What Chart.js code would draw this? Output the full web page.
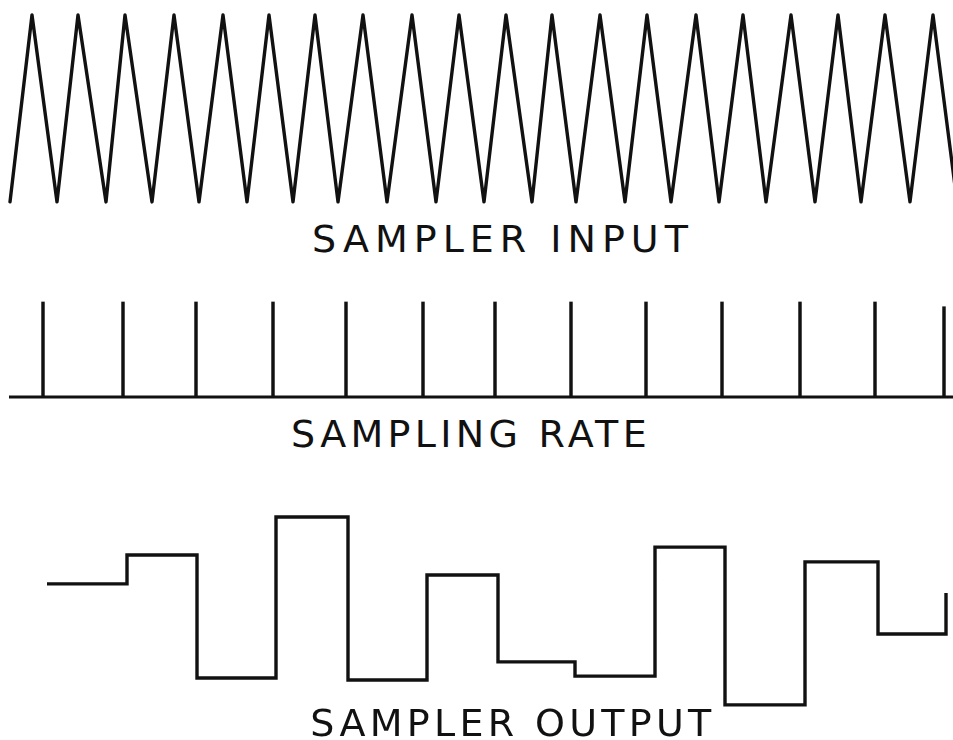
<!DOCTYPE html>
<html>
<head>
<meta charset="utf-8">
<script src="https://cdn.jsdelivr.net/npm/chart.js@4"></script>
<style>
  html, body { margin: 0; padding: 0; background: #fff; }
  #page { position: relative; width: 953px; height: 740px; overflow: hidden; }
  canvas { position: absolute; left: 0; }
  .label {
    position: absolute;
    transform: translate(-50%, -50%);
    font-family: "DejaVu Sans", sans-serif;
    font-size: 38px;
    line-height: 1;
    letter-spacing: 6px;
    color: #111;
    white-space: nowrap;
  }
</style>
</head>
<body>
<div id="page">
  <canvas id="inputChart" width="953" height="215" style="top:0px"></canvas>
  <canvas id="rateChart" width="953" height="115" style="top:290px"></canvas>
  <canvas id="outputChart" width="953" height="215" style="top:500px"></canvas>
  <div class="label" style="left:503px; top:239px">SAMPLER INPUT</div>
  <div class="label" style="left:471px; top:434px; letter-spacing:4.3px">SAMPLING RATE</div>
  <div class="label" style="left:513px; top:723px; letter-spacing:4.3px">SAMPLER OUTPUT</div>
</div>
<script>
// time axis runs 0 .. 95.3 (arbitrary units), amplitudes 0 .. 1

// triangle wave turning points (trough, peak, trough, ...)
const inputTimes = [
  1.0, 3.2, 5.7, 7.8, 10.6, 12.5, 15.2, 17.4, 19.9, 22.3,
  24.7, 26.9, 29.3, 31.5, 33.8, 36.3, 38.7, 41.2, 43.6, 45.9,
  48.4, 50.6, 53.2, 55.2, 57.6, 60.0, 62.5, 64.7, 67.1, 69.6,
  71.9, 74.3, 76.6, 79.1, 81.5, 83.8, 86.1, 88.5, 91.0, 93.3, 95.7
];
const inputLevels = [
  0, 1, 0, 1, 0, 1, 0, 1, 0, 1,
  0, 1, 0, 1, 0, 1, 0, 1, 0, 1,
  0, 1, 0, 1, 0, 1, 0, 1, 0, 1,
  0, 1, 0, 1, 0, 1, 0, 1, 0, 1, 0
];

// sampling impulses
const sampleTimes = [4.3, 12.3, 19.6, 27.3, 34.6, 42.3, 49.5, 57.1, 64.6, 72.2, 80.0, 87.5, 94.4];
const sampleHeights = [1, 1, 1, 1, 1, 1, 1, 1, 1, 1, 1, 1, 0.95];
const baselineTimes = [0.9, 95.3];

// sample-and-hold output
const outputTimes = [4.7, 12.7, 19.7, 27.6, 34.8, 42.7, 49.8, 57.5, 65.5, 72.5, 80.5, 87.8, 94.6];
const outputLevels = [0.61, 0.744, 0.172, 0.921, 0.163, 0.651, 0.247, 0.181, 0.781, 0.047, 0.712, 0.377, 0.567];

const INK = '#111111';

function pairs(xs, ys) {
  return xs.map((x, i) => ({x: x, y: ys[i]}));
}

function baseOptions(ymin, ymax) {
  return {
    responsive: false,
    animation: false,
    layout: {padding: 0},
    plugins: {legend: {display: false}, tooltip: {enabled: false}},
    scales: {
      x: {type: 'linear', min: 0, max: 95.3, offset: false, display: false},
      y: {type: 'linear', min: ymin, max: ymax, display: false}
    }
  };
}

new Chart(document.getElementById('inputChart'), {
  type: 'line',
  data: {
    datasets: [{
      data: pairs(inputTimes, inputLevels),
      borderColor: INK,
      borderWidth: 3.4,
      pointRadius: 0,
      tension: 0,
      borderJoinStyle: 'round',
      borderCapStyle: 'round'
    }]
  },
  options: baseOptions(-0.07, 1.08)
});

new Chart(document.getElementById('rateChart'), {
  data: {
    datasets: [
      {
        type: 'bar',
        data: pairs(sampleTimes, sampleHeights),
        backgroundColor: INK,
        barThickness: 2.8,
        borderWidth: 0
      },
      {
        type: 'line',
        data: pairs(baselineTimes, [0, 0]),
        borderColor: INK,
        borderWidth: 3.2,
        pointRadius: 0
      }
    ]
  },
  options: baseOptions(-0.084, 1.126)
});

new Chart(document.getElementById('outputChart'), {
  type: 'line',
  data: {
    datasets: [{
      data: pairs(outputTimes, outputLevels),
      stepped: 'before',
      borderColor: INK,
      borderWidth: 3.4,
      pointRadius: 0,
      borderJoinStyle: 'miter'
    }]
  },
  options: baseOptions(0, 1)
});
</script>
</body>
</html>
